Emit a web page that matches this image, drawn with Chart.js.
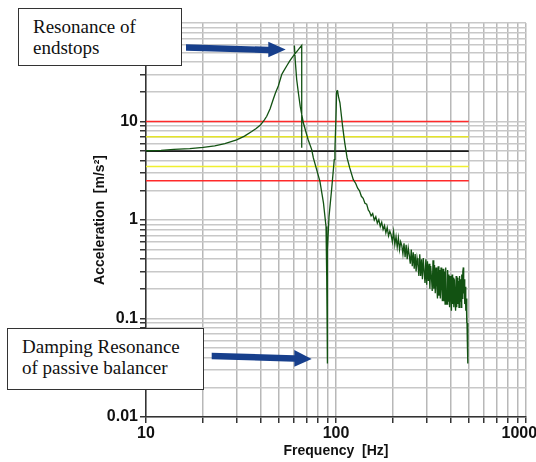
<!DOCTYPE html>
<html><head><meta charset="utf-8">
<script src="https://cdn.jsdelivr.net/npm/chart.js@4/dist/chart.umd.min.js"></script>
<style>
html,body{margin:0;padding:0;background:#fff;}
#wrap{position:relative;width:536px;height:462px;overflow:hidden;}
canvas{position:absolute;left:0;top:0;}
svg{position:absolute;left:0;top:0;}
.note{position:absolute;background:#fff;border:1px solid #333;font-family:'Liberation Serif','DejaVu Serif','Noto Serif',serif;font-size:19px;line-height:21px;color:#111;box-sizing:border-box;white-space:nowrap;}
</style></head><body>
<div id="wrap">
<canvas id="c" width="536" height="462"></canvas>
<svg width="536" height="462">
<polygon fill="#173f8c" points="186,44.3 268.3,46.8 268.3,41.7 285.7,49.5 268.3,57.3 268.3,53.2 186,50.7"/>
<polygon fill="#173f8c" points="211.7,352.7 294.3,355.3 294.3,350 311.7,359 294.3,366.7 294.3,361.7 211.7,359.3"/>
</svg>
<div class="note" style="left:18px;top:8px;width:164px;height:58px;padding:7px 0 0 14px;">Resonance of<br>endstops</div>
<div class="note" style="left:7px;top:328px;width:197px;height:62px;padding:7px 0 0 14px;">Damping Resonance<br>of passive balancer</div>
</div>
<script>
// Axis ticks
const freqTicks = [10,20,30,40,50,60,70,80,90,100,200,300,400,500,600,700,800,900,1000];
const freqLabels = [10,100,1000];
const accTicks = [0.01,0.02,0.03,0.04,0.05,0.06,0.07,0.08,0.09,0.1,0.2,0.3,0.4,0.5,0.6,0.7,0.8,0.9,1,2,3,4,5,6,7,8,9,10,20,30,40,50,60,70,80,90,100];
const accLabels = [0.01,0.1,1,10];

// Limit / reference lines (m/s^2) spanning frequency range
const limitFreqs = [10, 500];
const redLevels = [10, 2.5];
const yellowLevels = [7, 3.5];
const nominalLevel = 5;

// Measured response: frequency [Hz]
const responseFreq = [
10,12,14,17,20,23,26,30,33,36,38,40,42,43.2,45,46.7,48,49.7,51.8,53,55,57,59.5,62,66,66,66,
60.4,61,62.1,63.5,64.8,67.3,71.3,74.5,76,82.3,85.9,88.6,89.1,89.6,89.8,89.9,90.0,90.5,91.9,94.8,97.9,98.7,99.8,100.8,101.9,103,104.9,108.3,111.2,114.4,118,123.3,127,130,133,136,139,142,145,148,
150,153,156,159,162,165,168,171,174,177,180,183,186,189,192,195,198,201,204,207,210,213,216,219,222,225,228,231,234,237,240,243,246,249,252,255,258,261,264,267,270,273,276,279,282,285,288,291,294,297,300,303,306,309,312,315,318,321,324,327,330,333,336,339,342,345,348,351,354,357,360,363,366,369,372,375,378,381,384,387,390,393,396,399,402,405,408,411,414,417,420,423,426,429,432,435,438,441,444,447,450,453,456,459,462,465,468,470,473,476,479,482,485,487,489,491,493,494,495
];
// Measured response: acceleration [m/s^2] (null = break in trace)
const responseAcc = [
5.05,5.1,5.2,5.3,5.45,5.65,5.95,6.5,7.1,7.9,8.5,9.2,10.4,11.3,13.5,16.7,19.5,22.9,30,32.5,36.6,41,46,51,59.3,5.4,null,
59,42,26.7,19,14.3,9.7,6.56,5.19,4.27,2.47,1.49,0.86,0.5,0.27,0.09,0.035,0.2,0.5,1.09,2.03,4.1,5.2,10,20.3,20.5,18,15.5,8.97,6.07,4.27,3.4,2.57,2.35,2.1,1.98,1.74,1.66,1.48,1.45,1.26,
1.22,1.10,1.16,1.00,1.08,0.93,1.01,0.86,0.95,0.80,0.88,0.74,0.84,0.69,0.77,0.71,0.60,0.76,0.56,0.68,0.53,0.66,0.50,0.60,0.55,0.45,0.58,0.42,0.56,0.40,0.52,0.44,0.36,0.50,0.34,0.47,0.32,0.45,0.30,0.41,0.35,0.27,0.45,0.27,0.40,0.25,0.41,0.30,0.23,0.40,0.22,0.38,0.24,0.36,0.20,0.34,0.26,0.19,0.39,0.20,0.35,0.18,0.33,0.22,0.16,0.34,0.17,0.31,0.16,0.33,0.21,0.15,0.32,0.15,0.30,0.14,0.33,0.19,0.14,0.31,0.15,0.28,0.13,0.27,0.17,0.12,0.28,0.14,0.26,0.13,0.25,0.16,0.12,0.27,0.13,0.26,0.14,0.24,0.13,0.27,0.15,0.25,0.13,0.28,0.16,0.30,0.33,0.18,0.25,0.14,0.21,0.12,0.16,0.09,0.12,0.06,0.09,0.035,0.07
];

const toXY = (xs, ys) => xs.map((x, i) => ({x: x, y: ys[i]}));
const flat = v => limitFreqs.map(f => ({x: f, y: v}));

const lineDs = (data, color, width) => ({data: data, showLine: true, borderColor: color, borderWidth: width, pointRadius: 0, fill: false, tension: 0});

const fontSans = 'Liberation Sans, Arial, sans-serif';

new Chart(document.getElementById('c'), {
  type: 'scatter',
  data: {
    datasets: [
      lineDs(toXY(responseFreq, responseAcc), '#125212', 1.3),
      lineDs(flat(nominalLevel), '#1a1a1a', 1.6),
      lineDs(flat(redLevels[0]), '#ff2a2a', 1.5),
      lineDs(flat(redLevels[1]), '#ff2a2a', 1.5),
      lineDs(flat(yellowLevels[0]), '#e4e42a', 1.5),
      lineDs(flat(yellowLevels[1]), '#f0f030', 1.5)
    ]
  },
  options: {
    responsive: false,
    animation: false,
    layout: {padding: {top: 23, right: 10, left: 0, bottom: 0}},
    plugins: {legend: {display: false}, tooltip: {enabled: false}},
    scales: {
      x: {
        type: 'logarithmic', min: 10, max: 1000,
        afterBuildTicks: s => { s.ticks = freqTicks.map(v => ({value: v})); },
        afterFit: s => { s.height = 45; s.paddingLeft = 0; s.paddingRight = 0; },
        ticks: {autoSkip: false, maxRotation: 0, minRotation: 0, padding: 1, color: '#111',
          font: {family: fontSans, size: 16, weight: 'bold'},
          callback: v => freqLabels.includes(v) ? (v === 1000 ? '1000   ' : String(v)) : ''},
        grid: {color: '#b8b8b8', lineWidth: 1.5, tickLength: 6, tickColor: '#333'},
        border: {color: '#333', width: 1.5},
        title: {display: true, text: 'Frequency  [Hz]', color: '#111',
          font: {family: fontSans, size: 14, weight: 'bold'}, padding: {top: 0, bottom: 2}}
      },
      y: {
        type: 'logarithmic', min: 0.01, max: 100,
        afterBuildTicks: s => { s.ticks = accTicks.map(v => ({value: v})); },
        afterFit: s => { s.width = 146; s.paddingTop = 0; s.paddingBottom = 0; },
        ticks: {autoSkip: false, padding: 2, color: '#111',
          font: {family: fontSans, size: 16, weight: 'bold'},
          callback: v => accLabels.includes(v) ? String(v) : ''},
        grid: {color: '#c8c8c8', lineWidth: 1.5, tickLength: 6, tickColor: '#333'},
        border: {color: '#333', width: 1.5},
        title: {display: true, text: 'Acceleration  [m/s²]', color: '#111',
          font: {family: fontSans, size: 14, weight: 'bold'}, padding: {top: 92, bottom: 0}}
      }
    }
  }
});
</script>
</body></html>
